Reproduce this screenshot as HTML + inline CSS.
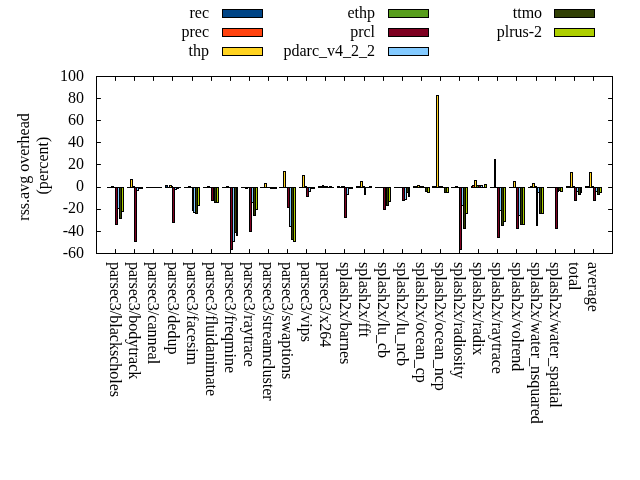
<!DOCTYPE html>
<html><head><meta charset="utf-8"><style>
html,body{margin:0;padding:0;background:#fff;}
svg{display:block;will-change:transform;}
text{font-family:"Liberation Serif",serif;font-size:16px;fill:#000;}
</style></head><body>
<svg width="640" height="480" viewBox="0 0 640 480">
<rect width="640" height="480" fill="#fff"/>
<path d="M96.5 76.5H612.5V253.5H96.5Z" fill="none" stroke="#000" stroke-width="1"/>
<path d="M96.5 253.5h4M612.5 253.5h-4M96.5 231.5h4M612.5 231.5h-4M96.5 209.5h4M612.5 209.5h-4M96.5 187.5h4M612.5 187.5h-4M96.5 164.5h4M612.5 164.5h-4M96.5 142.5h4M612.5 142.5h-4M96.5 120.5h4M612.5 120.5h-4M96.5 98.5h4M612.5 98.5h-4M96.5 76.5h4M612.5 76.5h-4M115.5 253.5v-4M115.5 76.5v4M134.5 253.5v-4M134.5 76.5v4M153.5 253.5v-4M153.5 76.5v4M172.5 253.5v-4M172.5 76.5v4M192.5 253.5v-4M192.5 76.5v4M211.5 253.5v-4M211.5 76.5v4M230.5 253.5v-4M230.5 76.5v4M249.5 253.5v-4M249.5 76.5v4M268.5 253.5v-4M268.5 76.5v4M287.5 253.5v-4M287.5 76.5v4M306.5 253.5v-4M306.5 76.5v4M325.5 253.5v-4M325.5 76.5v4M344.5 253.5v-4M344.5 76.5v4M364.5 253.5v-4M364.5 76.5v4M383.5 253.5v-4M383.5 76.5v4M402.5 253.5v-4M402.5 76.5v4M421.5 253.5v-4M421.5 76.5v4M440.5 253.5v-4M440.5 76.5v4M459.5 253.5v-4M459.5 76.5v4M478.5 253.5v-4M478.5 76.5v4M497.5 253.5v-4M497.5 76.5v4M516.5 253.5v-4M516.5 76.5v4M536.5 253.5v-4M536.5 76.5v4M555.5 253.5v-4M555.5 76.5v4M574.5 253.5v-4M574.5 76.5v4M593.5 253.5v-4M593.5 76.5v4" fill="none" stroke="#000" stroke-width="1" stroke-linecap="round"/>
<rect x="116" y="188" width="1" height="36" fill="#7e0021"/>
<rect x="118" y="188" width="1" height="20" fill="#83caff"/>
<rect x="120" y="188" width="1" height="30" fill="#314004"/>
<rect x="122" y="188" width="1" height="23" fill="#aecf00"/>
<rect x="131" y="180" width="1" height="7" fill="#ffd320"/>
<rect x="135" y="188" width="1" height="53" fill="#7e0021"/>
<rect x="137" y="188" width="1" height="2" fill="#83caff"/>
<rect x="166" y="186" width="1" height="1" fill="#004586"/>
<rect x="170" y="186" width="1" height="1" fill="#ffd320"/>
<rect x="173" y="188" width="1" height="34" fill="#7e0021"/>
<rect x="175" y="188" width="1" height="1" fill="#83caff"/>
<rect x="194" y="188" width="1" height="24" fill="#83caff"/>
<rect x="196" y="188" width="1" height="25" fill="#314004"/>
<rect x="198" y="188" width="1" height="17" fill="#aecf00"/>
<rect x="212" y="188" width="1" height="12" fill="#7e0021"/>
<rect x="215" y="188" width="1" height="14" fill="#314004"/>
<rect x="217" y="188" width="1" height="14" fill="#aecf00"/>
<rect x="231" y="188" width="1" height="61" fill="#7e0021"/>
<rect x="233" y="188" width="1" height="53" fill="#83caff"/>
<rect x="235" y="188" width="1" height="44" fill="#314004"/>
<rect x="250" y="188" width="1" height="43" fill="#7e0021"/>
<rect x="252" y="188" width="1" height="14" fill="#83caff"/>
<rect x="254" y="188" width="1" height="27" fill="#314004"/>
<rect x="256" y="188" width="1" height="21" fill="#aecf00"/>
<rect x="265" y="184" width="1" height="3" fill="#ffd320"/>
<rect x="284" y="172" width="1" height="15" fill="#ffd320"/>
<rect x="288" y="188" width="1" height="19" fill="#7e0021"/>
<rect x="290" y="188" width="1" height="38" fill="#83caff"/>
<rect x="292" y="188" width="1" height="51" fill="#314004"/>
<rect x="294" y="188" width="1" height="53" fill="#aecf00"/>
<rect x="303" y="176" width="1" height="11" fill="#ffd320"/>
<rect x="307" y="188" width="1" height="8" fill="#7e0021"/>
<rect x="309" y="188" width="1" height="3" fill="#83caff"/>
<rect x="345" y="188" width="1" height="29" fill="#7e0021"/>
<rect x="347" y="188" width="1" height="6" fill="#83caff"/>
<rect x="361" y="182" width="1" height="5" fill="#ffd320"/>
<rect x="384" y="188" width="1" height="21" fill="#7e0021"/>
<rect x="387" y="188" width="1" height="17" fill="#314004"/>
<rect x="389" y="188" width="1" height="13" fill="#aecf00"/>
<rect x="403" y="188" width="1" height="12" fill="#7e0021"/>
<rect x="405" y="188" width="1" height="11" fill="#83caff"/>
<rect x="407" y="188" width="1" height="4" fill="#314004"/>
<rect x="418" y="186" width="1" height="1" fill="#ffd320"/>
<rect x="426" y="188" width="1" height="3" fill="#314004"/>
<rect x="428" y="188" width="1" height="4" fill="#aecf00"/>
<rect x="437" y="96" width="1" height="91" fill="#ffd320"/>
<rect x="445" y="188" width="1" height="4" fill="#314004"/>
<rect x="447" y="188" width="1" height="4" fill="#aecf00"/>
<rect x="460" y="188" width="1" height="61" fill="#7e0021"/>
<rect x="462" y="188" width="1" height="17" fill="#83caff"/>
<rect x="464" y="188" width="1" height="40" fill="#314004"/>
<rect x="466" y="188" width="1" height="25" fill="#aecf00"/>
<rect x="473" y="186" width="1" height="1" fill="#ff420e"/>
<rect x="475" y="181" width="1" height="6" fill="#ffd320"/>
<rect x="477" y="186" width="1" height="1" fill="#579d1c"/>
<rect x="479" y="186" width="1" height="1" fill="#7e0021"/>
<rect x="481" y="186" width="1" height="1" fill="#83caff"/>
<rect x="485" y="185" width="1" height="2" fill="#aecf00"/>
<rect x="498" y="188" width="1" height="49" fill="#7e0021"/>
<rect x="500" y="188" width="1" height="22" fill="#83caff"/>
<rect x="502" y="188" width="1" height="37" fill="#314004"/>
<rect x="504" y="188" width="1" height="33" fill="#aecf00"/>
<rect x="514" y="182" width="1" height="5" fill="#ffd320"/>
<rect x="517" y="188" width="1" height="40" fill="#7e0021"/>
<rect x="519" y="188" width="1" height="27" fill="#83caff"/>
<rect x="521" y="188" width="1" height="36" fill="#314004"/>
<rect x="523" y="188" width="1" height="36" fill="#aecf00"/>
<rect x="533" y="184" width="1" height="3" fill="#ffd320"/>
<rect x="538" y="188" width="1" height="4" fill="#83caff"/>
<rect x="540" y="188" width="1" height="25" fill="#314004"/>
<rect x="542" y="188" width="1" height="25" fill="#aecf00"/>
<rect x="556" y="188" width="1" height="40" fill="#7e0021"/>
<rect x="559" y="188" width="1" height="2" fill="#314004"/>
<rect x="561" y="188" width="1" height="3" fill="#aecf00"/>
<rect x="571" y="173" width="1" height="14" fill="#ffd320"/>
<rect x="575" y="188" width="1" height="12" fill="#7e0021"/>
<rect x="577" y="188" width="1" height="3" fill="#83caff"/>
<rect x="579" y="188" width="1" height="6" fill="#314004"/>
<rect x="590" y="173" width="1" height="14" fill="#ffd320"/>
<rect x="594" y="188" width="1" height="12" fill="#7e0021"/>
<rect x="596" y="188" width="1" height="3" fill="#83caff"/>
<rect x="598" y="188" width="1" height="6" fill="#314004"/>
<rect x="600" y="188" width="1" height="4" fill="#aecf00"/>
<path d="M107 187h3v1h-3zM107 187h3v1h-3zM107 187h1v1h-1zM109 187h1v1h-1zM109 187h3v1h-3zM109 187h3v1h-3zM109 187h1v1h-1zM111 187h1v1h-1zM111 186h3v1h-3zM111 187h3v1h-3zM111 186h1v2h-1zM113 186h1v2h-1zM113 187h3v1h-3zM113 187h3v1h-3zM113 187h1v1h-1zM115 187h1v1h-1zM115 187h3v1h-3zM115 224h3v1h-3zM115 187h1v38h-1zM117 187h1v38h-1zM117 187h3v1h-3zM117 208h3v1h-3zM117 187h1v22h-1zM119 187h1v22h-1zM119 187h3v1h-3zM119 218h3v1h-3zM119 187h1v32h-1zM121 187h1v32h-1zM121 187h3v1h-3zM121 211h3v1h-3zM121 187h1v25h-1zM123 187h1v25h-1zM127 187h2v1h-2zM127 187h2v1h-2zM127 187h1v1h-1zM128 187h1v1h-1zM128 187h3v1h-3zM128 187h3v1h-3zM128 187h1v1h-1zM130 187h1v1h-1zM130 179h3v1h-3zM130 187h3v1h-3zM130 179h1v9h-1zM132 179h1v9h-1zM132 186h3v1h-3zM132 187h3v1h-3zM132 186h1v2h-1zM134 186h1v2h-1zM134 187h3v1h-3zM134 241h3v1h-3zM134 187h1v55h-1zM136 187h1v55h-1zM136 187h3v1h-3zM136 190h3v1h-3zM136 187h1v4h-1zM138 187h1v4h-1zM138 187h3v1h-3zM138 188h3v1h-3zM138 187h1v2h-1zM140 187h1v2h-1zM140 187h3v1h-3zM140 188h3v1h-3zM140 187h1v2h-1zM142 187h1v2h-1zM146 187h3v1h-3zM146 187h3v1h-3zM146 187h1v1h-1zM148 187h1v1h-1zM148 187h3v1h-3zM148 187h3v1h-3zM148 187h1v1h-1zM150 187h1v1h-1zM150 187h2v1h-2zM150 187h2v1h-2zM150 187h1v1h-1zM151 187h1v1h-1zM151 187h3v1h-3zM151 187h3v1h-3zM151 187h1v1h-1zM153 187h1v1h-1zM153 187h3v1h-3zM153 187h3v1h-3zM153 187h1v1h-1zM155 187h1v1h-1zM155 187h3v1h-3zM155 187h3v1h-3zM155 187h1v1h-1zM157 187h1v1h-1zM157 187h3v1h-3zM157 187h3v1h-3zM157 187h1v1h-1zM159 187h1v1h-1zM159 187h3v1h-3zM159 187h3v1h-3zM159 187h1v1h-1zM161 187h1v1h-1zM165 185h3v1h-3zM165 187h3v1h-3zM165 185h1v3h-1zM167 185h1v3h-1zM167 187h3v1h-3zM167 187h3v1h-3zM167 187h1v1h-1zM169 187h1v1h-1zM169 185h3v1h-3zM169 187h3v1h-3zM169 185h1v3h-1zM171 185h1v3h-1zM171 186h2v1h-2zM171 187h2v1h-2zM171 186h1v2h-1zM172 186h1v2h-1zM172 187h3v1h-3zM172 222h3v1h-3zM172 187h1v36h-1zM174 187h1v36h-1zM174 187h3v1h-3zM174 189h3v1h-3zM174 187h1v3h-1zM176 187h1v3h-1zM176 187h3v1h-3zM176 188h3v1h-3zM176 187h1v2h-1zM178 187h1v2h-1zM178 187h3v1h-3zM178 187h3v1h-3zM178 187h1v1h-1zM180 187h1v1h-1zM184 187h3v1h-3zM184 187h3v1h-3zM184 187h1v1h-1zM186 187h1v1h-1zM186 187h3v1h-3zM186 187h3v1h-3zM186 187h1v1h-1zM188 187h1v1h-1zM188 186h3v1h-3zM188 187h3v1h-3zM188 186h1v2h-1zM190 186h1v2h-1zM190 187h3v1h-3zM190 187h3v1h-3zM190 187h1v1h-1zM192 187h1v1h-1zM192 187h2v1h-2zM192 210h2v1h-2zM192 187h1v24h-1zM193 187h1v24h-1zM193 187h3v1h-3zM193 212h3v1h-3zM193 187h1v26h-1zM195 187h1v26h-1zM195 187h3v1h-3zM195 213h3v1h-3zM195 187h1v27h-1zM197 187h1v27h-1zM197 187h3v1h-3zM197 205h3v1h-3zM197 187h1v19h-1zM199 187h1v19h-1zM203 187h3v1h-3zM203 187h3v1h-3zM203 187h1v1h-1zM205 187h1v1h-1zM205 187h3v1h-3zM205 187h3v1h-3zM205 187h1v1h-1zM207 187h1v1h-1zM207 186h3v1h-3zM207 187h3v1h-3zM207 186h1v2h-1zM209 186h1v2h-1zM209 187h3v1h-3zM209 187h3v1h-3zM209 187h1v1h-1zM211 187h1v1h-1zM211 187h3v1h-3zM211 200h3v1h-3zM211 187h1v14h-1zM213 187h1v14h-1zM213 187h2v1h-2zM213 200h2v1h-2zM213 187h1v14h-1zM214 187h1v14h-1zM214 187h3v1h-3zM214 202h3v1h-3zM214 187h1v16h-1zM216 187h1v16h-1zM216 187h3v1h-3zM216 202h3v1h-3zM216 187h1v16h-1zM218 187h1v16h-1zM222 187h3v1h-3zM222 187h3v1h-3zM222 187h1v1h-1zM224 187h1v1h-1zM224 187h3v1h-3zM224 187h3v1h-3zM224 187h1v1h-1zM226 187h1v1h-1zM226 186h3v1h-3zM226 187h3v1h-3zM226 186h1v2h-1zM228 186h1v2h-1zM228 187h3v1h-3zM228 187h3v1h-3zM228 187h1v1h-1zM230 187h1v1h-1zM230 187h3v1h-3zM230 249h3v1h-3zM230 187h1v63h-1zM232 187h1v63h-1zM232 187h3v1h-3zM232 241h3v1h-3zM232 187h1v55h-1zM234 187h1v55h-1zM234 187h3v1h-3zM234 232h3v1h-3zM234 187h1v46h-1zM236 187h1v46h-1zM236 187h2v1h-2zM236 235h2v1h-2zM236 187h1v49h-1zM237 187h1v49h-1zM241 187h3v1h-3zM241 187h3v1h-3zM241 187h1v1h-1zM243 187h1v1h-1zM243 187h3v1h-3zM243 187h3v1h-3zM243 187h1v1h-1zM245 187h1v1h-1zM245 187h3v1h-3zM245 188h3v1h-3zM245 187h1v2h-1zM247 187h1v2h-1zM247 187h3v1h-3zM247 187h3v1h-3zM247 187h1v1h-1zM249 187h1v1h-1zM249 187h3v1h-3zM249 231h3v1h-3zM249 187h1v45h-1zM251 187h1v45h-1zM251 187h3v1h-3zM251 202h3v1h-3zM251 187h1v16h-1zM253 187h1v16h-1zM253 187h3v1h-3zM253 215h3v1h-3zM253 187h1v29h-1zM255 187h1v29h-1zM255 187h3v1h-3zM255 209h3v1h-3zM255 187h1v23h-1zM257 187h1v23h-1zM260 187h3v1h-3zM260 187h3v1h-3zM260 187h1v1h-1zM262 187h1v1h-1zM262 187h3v1h-3zM262 187h3v1h-3zM262 187h1v1h-1zM264 187h1v1h-1zM264 183h3v1h-3zM264 187h3v1h-3zM264 183h1v5h-1zM266 183h1v5h-1zM266 187h3v1h-3zM266 187h3v1h-3zM266 187h1v1h-1zM268 187h1v1h-1zM268 187h3v1h-3zM268 187h3v1h-3zM268 187h1v1h-1zM270 187h1v1h-1zM270 187h3v1h-3zM270 188h3v1h-3zM270 187h1v2h-1zM272 187h1v2h-1zM272 187h3v1h-3zM272 188h3v1h-3zM272 187h1v2h-1zM274 187h1v2h-1zM274 187h3v1h-3zM274 188h3v1h-3zM274 187h1v2h-1zM276 187h1v2h-1zM279 187h3v1h-3zM279 187h3v1h-3zM279 187h1v1h-1zM281 187h1v1h-1zM281 187h3v1h-3zM281 187h3v1h-3zM281 187h1v1h-1zM283 187h1v1h-1zM283 171h3v1h-3zM283 187h3v1h-3zM283 171h1v17h-1zM285 171h1v17h-1zM285 187h3v1h-3zM285 187h3v1h-3zM285 187h1v1h-1zM287 187h1v1h-1zM287 187h3v1h-3zM287 207h3v1h-3zM287 187h1v21h-1zM289 187h1v21h-1zM289 187h3v1h-3zM289 226h3v1h-3zM289 187h1v40h-1zM291 187h1v40h-1zM291 187h3v1h-3zM291 239h3v1h-3zM291 187h1v53h-1zM293 187h1v53h-1zM293 187h3v1h-3zM293 241h3v1h-3zM293 187h1v55h-1zM295 187h1v55h-1zM299 187h2v1h-2zM299 187h2v1h-2zM299 187h1v1h-1zM300 187h1v1h-1zM300 187h3v1h-3zM300 187h3v1h-3zM300 187h1v1h-1zM302 187h1v1h-1zM302 175h3v1h-3zM302 187h3v1h-3zM302 175h1v13h-1zM304 175h1v13h-1zM304 186h3v1h-3zM304 187h3v1h-3zM304 186h1v2h-1zM306 186h1v2h-1zM306 187h3v1h-3zM306 196h3v1h-3zM306 187h1v10h-1zM308 187h1v10h-1zM308 187h3v1h-3zM308 191h3v1h-3zM308 187h1v5h-1zM310 187h1v5h-1zM310 187h3v1h-3zM310 188h3v1h-3zM310 187h1v2h-1zM312 187h1v2h-1zM312 187h3v1h-3zM312 188h3v1h-3zM312 187h1v2h-1zM314 187h1v2h-1zM318 186h3v1h-3zM318 187h3v1h-3zM318 186h1v2h-1zM320 186h1v2h-1zM320 186h3v1h-3zM320 187h3v1h-3zM320 186h1v2h-1zM322 186h1v2h-1zM322 185h2v1h-2zM322 187h2v1h-2zM322 185h1v3h-1zM323 185h1v3h-1zM323 186h3v1h-3zM323 187h3v1h-3zM323 186h1v2h-1zM325 186h1v2h-1zM325 186h3v1h-3zM325 187h3v1h-3zM325 186h1v2h-1zM327 186h1v2h-1zM327 187h3v1h-3zM327 187h3v1h-3zM327 187h1v1h-1zM329 187h1v1h-1zM329 186h3v1h-3zM329 187h3v1h-3zM329 186h1v2h-1zM331 186h1v2h-1zM331 187h3v1h-3zM331 187h3v1h-3zM331 187h1v1h-1zM333 187h1v1h-1zM337 186h3v1h-3zM337 187h3v1h-3zM337 186h1v2h-1zM339 186h1v2h-1zM339 187h3v1h-3zM339 187h3v1h-3zM339 187h1v1h-1zM341 187h1v1h-1zM341 186h3v1h-3zM341 187h3v1h-3zM341 186h1v2h-1zM343 186h1v2h-1zM343 186h2v1h-2zM343 187h2v1h-2zM343 186h1v2h-1zM344 186h1v2h-1zM344 187h3v1h-3zM344 217h3v1h-3zM344 187h1v31h-1zM346 187h1v31h-1zM346 187h3v1h-3zM346 194h3v1h-3zM346 187h1v8h-1zM348 187h1v8h-1zM348 187h3v1h-3zM348 188h3v1h-3zM348 187h1v2h-1zM350 187h1v2h-1zM350 187h3v1h-3zM350 188h3v1h-3zM350 187h1v2h-1zM352 187h1v2h-1zM356 186h3v1h-3zM356 187h3v1h-3zM356 186h1v2h-1zM358 186h1v2h-1zM358 186h3v1h-3zM358 187h3v1h-3zM358 186h1v2h-1zM360 186h1v2h-1zM360 181h3v1h-3zM360 187h3v1h-3zM360 181h1v7h-1zM362 181h1v7h-1zM362 186h3v1h-3zM362 187h3v1h-3zM362 186h1v2h-1zM364 186h1v2h-1zM364 187h2v1h-2zM364 194h2v1h-2zM364 187h1v8h-1zM365 187h1v8h-1zM365 187h3v1h-3zM365 187h3v1h-3zM365 187h1v1h-1zM367 187h1v1h-1zM367 187h3v1h-3zM367 187h3v1h-3zM367 187h1v1h-1zM369 187h1v1h-1zM369 186h3v1h-3zM369 187h3v1h-3zM369 186h1v2h-1zM371 186h1v2h-1zM375 187h3v1h-3zM375 187h3v1h-3zM375 187h1v1h-1zM377 187h1v1h-1zM377 187h3v1h-3zM377 187h3v1h-3zM377 187h1v1h-1zM379 187h1v1h-1zM379 187h3v1h-3zM379 187h3v1h-3zM379 187h1v1h-1zM381 187h1v1h-1zM381 187h3v1h-3zM381 187h3v1h-3zM381 187h1v1h-1zM383 187h1v1h-1zM383 187h3v1h-3zM383 209h3v1h-3zM383 187h1v23h-1zM385 187h1v23h-1zM385 187h2v1h-2zM385 205h2v1h-2zM385 187h1v19h-1zM386 187h1v19h-1zM386 187h3v1h-3zM386 205h3v1h-3zM386 187h1v19h-1zM388 187h1v19h-1zM388 187h3v1h-3zM388 201h3v1h-3zM388 187h1v15h-1zM390 187h1v15h-1zM394 187h3v1h-3zM394 187h3v1h-3zM394 187h1v1h-1zM396 187h1v1h-1zM396 187h3v1h-3zM396 187h3v1h-3zM396 187h1v1h-1zM398 187h1v1h-1zM398 187h3v1h-3zM398 187h3v1h-3zM398 187h1v1h-1zM400 187h1v1h-1zM400 187h3v1h-3zM400 187h3v1h-3zM400 187h1v1h-1zM402 187h1v1h-1zM402 187h3v1h-3zM402 200h3v1h-3zM402 187h1v14h-1zM404 187h1v14h-1zM404 187h3v1h-3zM404 199h3v1h-3zM404 187h1v13h-1zM406 187h1v13h-1zM406 187h3v1h-3zM406 192h3v1h-3zM406 187h1v6h-1zM408 187h1v6h-1zM408 187h2v1h-2zM408 196h2v1h-2zM408 187h1v10h-1zM409 187h1v10h-1zM413 186h3v1h-3zM413 187h3v1h-3zM413 186h1v2h-1zM415 186h1v2h-1zM415 186h3v1h-3zM415 187h3v1h-3zM415 186h1v2h-1zM417 186h1v2h-1zM417 185h3v1h-3zM417 187h3v1h-3zM417 185h1v3h-1zM419 185h1v3h-1zM419 186h3v1h-3zM419 187h3v1h-3zM419 186h1v2h-1zM421 186h1v2h-1zM421 186h3v1h-3zM421 187h3v1h-3zM421 186h1v2h-1zM423 186h1v2h-1zM423 187h3v1h-3zM423 187h3v1h-3zM423 187h1v1h-1zM425 187h1v1h-1zM425 187h3v1h-3zM425 191h3v1h-3zM425 187h1v5h-1zM427 187h1v5h-1zM427 187h3v1h-3zM427 192h3v1h-3zM427 187h1v6h-1zM429 187h1v6h-1zM432 186h3v1h-3zM432 187h3v1h-3zM432 186h1v2h-1zM434 186h1v2h-1zM434 186h3v1h-3zM434 187h3v1h-3zM434 186h1v2h-1zM436 186h1v2h-1zM436 95h3v1h-3zM436 187h3v1h-3zM436 95h1v93h-1zM438 95h1v93h-1zM438 186h3v1h-3zM438 187h3v1h-3zM438 186h1v2h-1zM440 186h1v2h-1zM440 186h3v1h-3zM440 187h3v1h-3zM440 186h1v2h-1zM442 186h1v2h-1zM442 187h3v1h-3zM442 187h3v1h-3zM442 187h1v1h-1zM444 187h1v1h-1zM444 187h3v1h-3zM444 192h3v1h-3zM444 187h1v6h-1zM446 187h1v6h-1zM446 187h3v1h-3zM446 192h3v1h-3zM446 187h1v6h-1zM448 187h1v6h-1zM451 187h3v1h-3zM451 187h3v1h-3zM451 187h1v1h-1zM453 187h1v1h-1zM453 187h3v1h-3zM453 187h3v1h-3zM453 187h1v1h-1zM455 187h1v1h-1zM455 186h3v1h-3zM455 187h3v1h-3zM455 186h1v2h-1zM457 186h1v2h-1zM457 187h3v1h-3zM457 187h3v1h-3zM457 187h1v1h-1zM459 187h1v1h-1zM459 187h3v1h-3zM459 249h3v1h-3zM459 187h1v63h-1zM461 187h1v63h-1zM461 187h3v1h-3zM461 205h3v1h-3zM461 187h1v19h-1zM463 187h1v19h-1zM463 187h3v1h-3zM463 228h3v1h-3zM463 187h1v42h-1zM465 187h1v42h-1zM465 187h3v1h-3zM465 213h3v1h-3zM465 187h1v27h-1zM467 187h1v27h-1zM471 186h2v1h-2zM471 187h2v1h-2zM471 186h1v2h-1zM472 186h1v2h-1zM472 185h3v1h-3zM472 187h3v1h-3zM472 185h1v3h-1zM474 185h1v3h-1zM474 180h3v1h-3zM474 187h3v1h-3zM474 180h1v8h-1zM476 180h1v8h-1zM476 185h3v1h-3zM476 187h3v1h-3zM476 185h1v3h-1zM478 185h1v3h-1zM478 185h3v1h-3zM478 187h3v1h-3zM478 185h1v3h-1zM480 185h1v3h-1zM480 185h3v1h-3zM480 187h3v1h-3zM480 185h1v3h-1zM482 185h1v3h-1zM482 187h3v1h-3zM482 187h3v1h-3zM482 187h1v1h-1zM484 187h1v1h-1zM484 184h3v1h-3zM484 187h3v1h-3zM484 184h1v4h-1zM486 184h1v4h-1zM490 187h3v1h-3zM490 187h3v1h-3zM490 187h1v1h-1zM492 187h1v1h-1zM492 187h3v1h-3zM492 187h3v1h-3zM492 187h1v1h-1zM494 187h1v1h-1zM494 159h2v1h-2zM494 187h2v1h-2zM494 159h1v29h-1zM495 159h1v29h-1zM495 187h3v1h-3zM495 187h3v1h-3zM495 187h1v1h-1zM497 187h1v1h-1zM497 187h3v1h-3zM497 237h3v1h-3zM497 187h1v51h-1zM499 187h1v51h-1zM499 187h3v1h-3zM499 210h3v1h-3zM499 187h1v24h-1zM501 187h1v24h-1zM501 187h3v1h-3zM501 225h3v1h-3zM501 187h1v39h-1zM503 187h1v39h-1zM503 187h3v1h-3zM503 221h3v1h-3zM503 187h1v35h-1zM505 187h1v35h-1zM509 187h3v1h-3zM509 187h3v1h-3zM509 187h1v1h-1zM511 187h1v1h-1zM511 187h3v1h-3zM511 187h3v1h-3zM511 187h1v1h-1zM513 187h1v1h-1zM513 181h3v1h-3zM513 187h3v1h-3zM513 181h1v7h-1zM515 181h1v7h-1zM515 187h2v1h-2zM515 187h2v1h-2zM515 187h1v1h-1zM516 187h1v1h-1zM516 187h3v1h-3zM516 228h3v1h-3zM516 187h1v42h-1zM518 187h1v42h-1zM518 187h3v1h-3zM518 215h3v1h-3zM518 187h1v29h-1zM520 187h1v29h-1zM520 187h3v1h-3zM520 224h3v1h-3zM520 187h1v38h-1zM522 187h1v38h-1zM522 187h3v1h-3zM522 224h3v1h-3zM522 187h1v38h-1zM524 187h1v38h-1zM528 187h3v1h-3zM528 187h3v1h-3zM528 187h1v1h-1zM530 187h1v1h-1zM530 186h3v1h-3zM530 187h3v1h-3zM530 186h1v2h-1zM532 186h1v2h-1zM532 183h3v1h-3zM532 187h3v1h-3zM532 183h1v5h-1zM534 183h1v5h-1zM534 186h3v1h-3zM534 187h3v1h-3zM534 186h1v2h-1zM536 186h1v2h-1zM536 187h2v1h-2zM536 225h2v1h-2zM536 187h1v39h-1zM537 187h1v39h-1zM537 187h3v1h-3zM537 192h3v1h-3zM537 187h1v6h-1zM539 187h1v6h-1zM539 187h3v1h-3zM539 213h3v1h-3zM539 187h1v27h-1zM541 187h1v27h-1zM541 187h3v1h-3zM541 213h3v1h-3zM541 187h1v27h-1zM543 187h1v27h-1zM547 187h3v1h-3zM547 187h3v1h-3zM547 187h1v1h-1zM549 187h1v1h-1zM549 187h3v1h-3zM549 187h3v1h-3zM549 187h1v1h-1zM551 187h1v1h-1zM551 187h3v1h-3zM551 187h3v1h-3zM551 187h1v1h-1zM553 187h1v1h-1zM553 187h3v1h-3zM553 187h3v1h-3zM553 187h1v1h-1zM555 187h1v1h-1zM555 187h3v1h-3zM555 228h3v1h-3zM555 187h1v42h-1zM557 187h1v42h-1zM557 187h2v1h-2zM557 191h2v1h-2zM557 187h1v5h-1zM558 187h1v5h-1zM558 187h3v1h-3zM558 190h3v1h-3zM558 187h1v4h-1zM560 187h1v4h-1zM560 187h3v1h-3zM560 191h3v1h-3zM560 187h1v5h-1zM562 187h1v5h-1zM566 186h3v1h-3zM566 187h3v1h-3zM566 186h1v2h-1zM568 186h1v2h-1zM568 186h3v1h-3zM568 187h3v1h-3zM568 186h1v2h-1zM570 186h1v2h-1zM570 172h3v1h-3zM570 187h3v1h-3zM570 172h1v16h-1zM572 172h1v16h-1zM572 186h3v1h-3zM572 187h3v1h-3zM572 186h1v2h-1zM574 186h1v2h-1zM574 187h3v1h-3zM574 200h3v1h-3zM574 187h1v14h-1zM576 187h1v14h-1zM576 187h3v1h-3zM576 191h3v1h-3zM576 187h1v5h-1zM578 187h1v5h-1zM578 187h3v1h-3zM578 194h3v1h-3zM578 187h1v8h-1zM580 187h1v8h-1zM580 187h2v1h-2zM580 192h2v1h-2zM580 187h1v6h-1zM581 187h1v6h-1zM585 186h3v1h-3zM585 187h3v1h-3zM585 186h1v2h-1zM587 186h1v2h-1zM587 186h3v1h-3zM587 187h3v1h-3zM587 186h1v2h-1zM589 186h1v2h-1zM589 172h3v1h-3zM589 187h3v1h-3zM589 172h1v16h-1zM591 172h1v16h-1zM591 186h3v1h-3zM591 187h3v1h-3zM591 186h1v2h-1zM593 186h1v2h-1zM593 187h3v1h-3zM593 200h3v1h-3zM593 187h1v14h-1zM595 187h1v14h-1zM595 187h3v1h-3zM595 191h3v1h-3zM595 187h1v5h-1zM597 187h1v5h-1zM597 187h3v1h-3zM597 194h3v1h-3zM597 187h1v8h-1zM599 187h1v8h-1zM599 187h3v1h-3zM599 192h3v1h-3zM599 187h1v6h-1zM601 187h1v6h-1z" fill="#000"/>
<rect x="222.5" y="9.5" width="40" height="8" fill="#004586" stroke="#000" stroke-width="1"/>
<rect x="222.5" y="28.5" width="40" height="8" fill="#ff420e" stroke="#000" stroke-width="1"/>
<rect x="222.5" y="47.5" width="40" height="8" fill="#ffd320" stroke="#000" stroke-width="1"/>
<rect x="388.5" y="9.5" width="40" height="8" fill="#579d1c" stroke="#000" stroke-width="1"/>
<rect x="388.5" y="28.5" width="40" height="8" fill="#7e0021" stroke="#000" stroke-width="1"/>
<rect x="388.5" y="47.5" width="40" height="8" fill="#83caff" stroke="#000" stroke-width="1"/>
<rect x="554.5" y="9.5" width="40" height="8" fill="#314004" stroke="#000" stroke-width="1"/>
<rect x="554.5" y="28.5" width="40" height="8" fill="#aecf00" stroke="#000" stroke-width="1"/>
<text x="84" y="257.70" text-anchor="end">-60</text>
<text x="84" y="235.57" text-anchor="end">-40</text>
<text x="84" y="213.44" text-anchor="end">-20</text>
<text x="84" y="191.31" text-anchor="end">0</text>
<text x="84" y="169.18" text-anchor="end">20</text>
<text x="84" y="147.05" text-anchor="end">40</text>
<text x="84" y="124.92" text-anchor="end">60</text>
<text x="84" y="102.79" text-anchor="end">80</text>
<text x="84" y="80.66" text-anchor="end">100</text>
<text transform="translate(110.20,262) rotate(90)" x="0" y="0">parsec3/blackscholes</text>
<text transform="translate(129.32,262) rotate(90)" x="0" y="0">parsec3/bodytrack</text>
<text transform="translate(148.43,262) rotate(90)" x="0" y="0">parsec3/canneal</text>
<text transform="translate(167.54,262) rotate(90)" x="0" y="0">parsec3/dedup</text>
<text transform="translate(186.65,262) rotate(90)" x="0" y="0">parsec3/facesim</text>
<text transform="translate(205.76,262) rotate(90)" x="0" y="0">parsec3/fluidanimate</text>
<text transform="translate(224.88,262) rotate(90)" x="0" y="0">parsec3/freqmine</text>
<text transform="translate(243.99,262) rotate(90)" x="0" y="0">parsec3/raytrace</text>
<text transform="translate(263.10,262) rotate(90)" x="0" y="0">parsec3/streamcluster</text>
<text transform="translate(282.21,262) rotate(90)" x="0" y="0">parsec3/swaptions</text>
<text transform="translate(301.32,262) rotate(90)" x="0" y="0">parsec3/vips</text>
<text transform="translate(320.43,262) rotate(90)" x="0" y="0">parsec3/x264</text>
<text transform="translate(339.55,262) rotate(90)" x="0" y="0">splash2x/barnes</text>
<text transform="translate(358.66,262) rotate(90)" x="0" y="0">splash2x/fft</text>
<text transform="translate(377.77,262) rotate(90)" x="0" y="0">splash2x/lu_cb</text>
<text transform="translate(396.88,262) rotate(90)" x="0" y="0">splash2x/lu_ncb</text>
<text transform="translate(415.99,262) rotate(90)" x="0" y="0">splash2x/ocean_cp</text>
<text transform="translate(435.11,262) rotate(90)" x="0" y="0">splash2x/ocean_ncp</text>
<text transform="translate(454.22,262) rotate(90)" x="0" y="0">splash2x/radiosity</text>
<text transform="translate(473.33,262) rotate(90)" x="0" y="0">splash2x/radix</text>
<text transform="translate(492.44,262) rotate(90)" x="0" y="0">splash2x/raytrace</text>
<text transform="translate(511.55,262) rotate(90)" x="0" y="0">splash2x/volrend</text>
<text transform="translate(530.66,262) rotate(90)" x="0" y="0">splash2x/water_nsquared</text>
<text transform="translate(549.78,262) rotate(90)" x="0" y="0">splash2x/water_spatial</text>
<text transform="translate(568.89,262) rotate(90)" x="0" y="0">total</text>
<text transform="translate(588.00,262) rotate(90)" x="0" y="0">average</text>
<text transform="translate(29.2,166.95) rotate(-90)" text-anchor="middle">rss.avg overhead</text>
<text transform="translate(48.1,165.6) rotate(-90)" text-anchor="middle">(percent)</text>
<text x="209" y="18.00" text-anchor="end">rec</text>
<text x="209" y="36.90" text-anchor="end">prec</text>
<text x="209" y="55.80" text-anchor="end">thp</text>
<text x="375" y="18.00" text-anchor="end">ethp</text>
<text x="375" y="36.90" text-anchor="end">prcl</text>
<text x="375" y="55.80" text-anchor="end">pdarc_v4_2_2</text>
<text x="542.1" y="18.00" text-anchor="end">ttmo</text>
<text x="542.1" y="36.90" text-anchor="end">plrus-2</text>
</svg></body></html>
